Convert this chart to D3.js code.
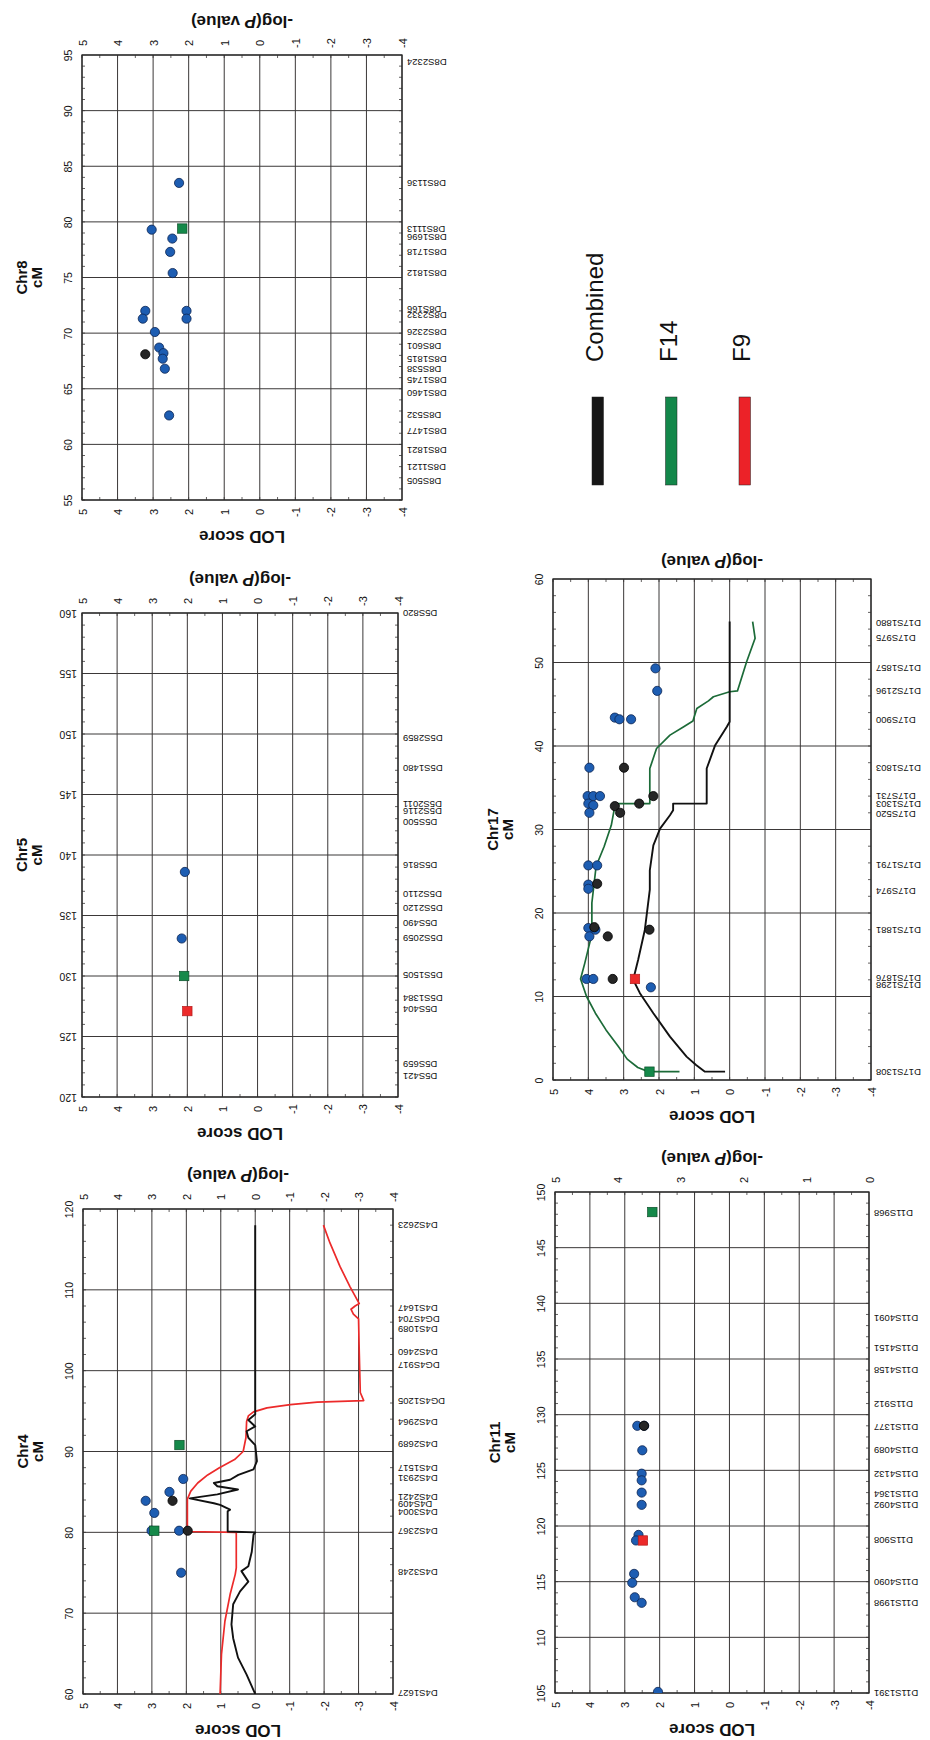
<!DOCTYPE html>
<html>
<head>
<meta charset="utf-8">
<script src="https://cdn.jsdelivr.net/npm/d3@7"></script>
<style>
  body { margin: 0; background: #fff; }
  svg text { font-family: "Liberation Sans", Arial, sans-serif; }
</style>
</head>
<body>
<div id="chart"></div>
<script>
// ---------- data (cM, score) ----------
// Chr8
var chr8Markers = ["D8S505", "D8S1121", "D8S1821", "D8S1477", "D8S532", "D8S1460", "D8S1745", "D8S538", "D8S1815", "D8S601",
  "D8S2326", "D8S2332", "D8S166", "D8S1812", "D8S1718", "D8S1696", "D8S1113", "D8S1136", "D8S2324"];
var chr8MarkerCM = [56.7, 58.0, 59.5, 61.2, 62.6, 64.6, 65.8, 66.8, 67.7, 68.8, 70.1, 71.6, 72.2, 75.4, 77.3, 78.6, 79.4, 83.5, 94.4];
var chr8Pval = [[83.5, 2.27], [79.3, 3.04], [78.5, 2.46], [77.3, 2.52], [75.4, 2.45], [72.0, 3.22], [71.3, 3.29], [72.0, 2.06],
  [71.3, 2.06], [70.1, 2.95], [68.7, 2.83], [68.2, 2.71], [67.7, 2.73], [66.8, 2.67], [62.6, 2.55]];
var chr8Combined = [[68.1, 3.22]];
var chr8F14 = [[79.4, 2.18]];

// Chr5
var chr5Markers = ["D5S421", "D5S659", "D5S404", "D5S1384", "D5S1505", "D5S2059", "D5S490", "D5S2120", "D5S2110", "D5S816",
  "D5S500", "D5S2116", "D5S2011", "D5S1480", "D5S2859", "D5S820"];
var chr5MarkerCM = [121.7, 122.7, 127.3, 128.2, 130.1, 133.1, 134.4, 135.6, 136.8, 139.2, 142.7, 143.6, 144.2, 147.2, 149.7, 160.0];
var chr5Pval = [[138.6, 2.07], [133.1, 2.16]];
var chr5F14 = [[130.0, 2.09]];
var chr5F9 = [[127.1, 2.0]];

// Chr4
var chr4Markers = ["D4S1627", "D4S3248", "D4S2367", "D4S3004", "D4S409", "D4S2421", "D4S2931", "D4S1517", "D4S2689", "D4S2964",
  "DG4S1205", "DG4S917", "D4S2460", "D4S1089", "DG4S704", "D4S1647", "D4S2623"];
var chr4MarkerCM = [60.1, 75.1, 80.2, 82.5, 83.5, 84.4, 86.7, 88.0, 90.9, 93.7, 96.2, 100.7, 102.3, 105.2, 106.4, 107.7, 118.0];
var chr4Pval = [[83.9, 3.18], [82.4, 2.93], [85.0, 2.49], [86.6, 2.09], [80.2, 3.01], [80.2, 2.21], [75.0, 2.15]];
var chr4Combined = [[83.9, 2.40], [80.2, 1.96]];
var chr4F14 = [[90.8, 2.20], [80.2, 2.93]];
var chr4CombinedLine = [[60.0, 0.0], [62.4, 0.25], [64.5, 0.5], [66.9, 0.64], [68.6, 0.69], [71.1, 0.64], [72.7, 0.44], [73.9, 0.2],
  [75.2, 0.4], [75.8, 0.2], [77.6, 0.1], [79.7, 0.05], [80.0, 0.0], [80.1, 0.8], [82.6, 0.8], [82.8, 0.73], [83.4, 1.02],
  [83.6, 1.2], [84.2, 1.9], [84.7, 1.1], [85.3, 0.5], [85.7, 1.1], [86.1, 1.2], [86.5, 0.73], [87.1, 0.49], [87.8, 0.05],
  [88.8, -0.05], [90.8, 0.0], [91.7, 0.2], [92.5, 0.25], [93.1, 0.0], [93.9, 0.2], [94.6, 0.0], [95.8, 0.0], [118.0, 0.0]];
var chr4F9Line = [[60.0, 1.02], [64.9, 0.98], [69.0, 0.88], [72.3, 0.73], [74.8, 0.58], [75.6, 0.55], [80.0, 0.55], [80.1, 1.97],
  [84.1, 1.97], [85.1, 1.87], [86.1, 1.67], [87.1, 1.38], [88.0, 1.04], [89.0, 0.6], [90.0, 0.35], [91.7, 0.27], [93.7, 0.25],
  [94.4, 0.2], [94.9, 0.05], [95.4, -0.34], [95.8, -1.02], [96.1, -1.8], [96.3, -3.15], [97.3, -3.05], [102.3, -3.02],
  [106.4, -3.0], [107.0, -2.85], [107.6, -2.78], [108.0, -2.9], [108.3, -3.02], [110.4, -2.75], [112.9, -2.46],
  [115.8, -2.17], [118.0, -1.98]];

// Chr17
var chr17Markers = ["D17S1308", "D17S1298", "D17S1876", "D17S1881", "D17S974", "D17S1791", "D17S520", "D17S1303", "D17S731",
  "D17S1803", "D17S900", "D17S2196", "D17S1857", "D17S975", "D17S1880"];
var chr17MarkerCM = [1.0, 11.4, 12.2, 18.0, 22.6, 25.7, 31.9, 33.1, 34.0, 37.4, 43.1, 46.6, 49.3, 52.9, 54.7];
var chr17Pval = [[49.3, 2.1], [46.6, 2.05], [43.4, 3.25], [43.2, 3.12], [43.2, 2.79], [37.4, 3.97], [34.0, 4.02], [34.0, 3.86],
  [34.0, 3.67], [33.1, 4.0], [32.9, 3.86], [32.0, 3.97], [25.7, 4.0], [25.7, 3.75], [23.4, 4.0], [22.9, 4.0], [18.2, 4.0],
  [17.2, 3.97], [18.0, 3.8], [12.1, 4.05], [12.1, 3.86], [11.1, 2.23]];
var chr17Combined = [[37.4, 2.99], [34.0, 2.16], [33.1, 2.56], [32.8, 3.25], [32.0, 3.1], [23.5, 3.75], [18.3, 3.83],
  [17.2, 3.45], [12.1, 3.31], [18.0, 2.27]];
var chr17F14 = [[1.0, 2.27]];
var chr17F9 = [[12.1, 2.68]];
var chr17CombinedLine = [[1.0, 0.13], [1.0, 0.7], [1.8, 0.95], [2.8, 1.22], [5.2, 1.69], [8.0, 2.16], [10.4, 2.54], [12.0, 2.73],
  [14.4, 2.59], [18.0, 2.40], [22.8, 2.26], [25.1, 2.26], [28.1, 2.16], [30.1, 1.97], [31.7, 1.69], [32.3, 1.6], [33.1, 1.6],
  [33.1, 0.65], [37.3, 0.65], [40.1, 0.41], [42.3, 0.08], [42.9, 0.0], [54.9, 0.0]];
var chr17F14Line = [[1.0, 1.42], [1.0, 2.3], [1.5, 2.6], [2.5, 2.9], [4.0, 3.15], [6.0, 3.5], [8.0, 3.8], [10.0, 4.05],
  [12.1, 4.22], [14.0, 4.1], [16.6, 3.95], [18.0, 3.9], [21.2, 3.9], [25.6, 3.78], [28.0, 3.55], [30.5, 3.35], [32.8, 3.25],
  [33.1, 3.15], [33.1, 2.26], [37.3, 2.26], [39.7, 2.07], [41.3, 1.69], [42.3, 1.3], [43.0, 1.04], [44.5, 0.93], [45.4, 0.6],
  [45.9, 0.46], [46.5, 0.0], [46.6, -0.22], [50.1, -0.48], [52.9, -0.72], [54.9, -0.65]];

// Chr11 (blue points read on the -log(P) axis, 5 .. 0)
var chr11Markers = ["D11S1391", "D11S1998", "D11S4090", "D11S908", "D11S4092", "D11S1364", "D11S4132", "D11S4089", "D11S1377",
  "D11S912", "D11S4158", "D11S4151", "D11S4091", "D11S968"];
var chr11MarkerCM = [105.0, 113.1, 115.0, 118.7, 121.9, 122.9, 124.7, 126.8, 128.9, 131.0, 134.0, 136.0, 138.7, 148.1];
var chr11Pval = [[129.0, 3.69], [129.0, 3.58], [126.8, 3.61], [124.7, 3.62], [124.1, 3.62], [123.0, 3.62], [121.9, 3.62],
  [119.2, 3.67], [118.7, 3.71], [115.7, 3.74], [114.9, 3.77], [113.6, 3.73], [113.1, 3.62], [105.1, 3.36]];
var chr11Combined = [[129.0, 2.45]];
var chr11F14 = [[148.2, 2.21]];
var chr11F9 = [[118.7, 2.48]];

var lodTicks = [5, 4, 3, 2, 1, 0, -1, -2, -3, -4];
var legendNames = ["Combined", "F14", "F9"];

// ---------- chart ----------
var svgWidth = 930;
var svgHeight = 1740;

var svg = d3.select("#chart")
  .append("svg")
  .attr("width", svgWidth)
  .attr("height", svgHeight);

var colors = {
  blue: "#1d5db2", blueEdge: "#0c2452",
  black: "#262626",
  green: "#15894a", greenLine: "#1c6b38",
  red: "#ec2a2a"
};
var gridColor = "#3b3838";

function rotText(g, x, y, angle, txt) {
  return g.append("text")
    .attr("transform", `translate(${x},${y}) rotate(${angle})`)
    .text(txt);
}

// restyle the labels d3.axis made so they sit rotated like the figure
function styleLabels(axisG, dx, dy, angle, anchor, size) {
  axisG.select(".domain").remove();
  axisG.selectAll(".tick line").remove();
  axisG.attr("font-family", null).attr("font-size", null);
  axisG.selectAll(".tick text")
    .attr("x", null).attr("y", null).attr("dy", null)
    .attr("transform", `translate(${dx},${dy}) rotate(${angle})`)
    .attr("text-anchor", anchor)
    .attr("dominant-baseline", "central")
    .attr("fill", "#111")
    .style("font-size", size + "px");
}

var panelCount = 0;
function drawPanel(p) {
  panelCount += 1;
  var g = svg.append("g");
  var x = d3.scaleLinear().domain([5, -4]).range([p.left, p.right]);
  var xP = d3.scaleLinear().domain(p.pDomain || [5, -4]).range([p.left, p.right]);
  var y = d3.scaleLinear().domain(p.cm).range([p.bottom, p.top]);
  var cmTicks = d3.range(p.cm[0], p.cm[1] + 0.01, p.step);
  var midX = (p.left + p.right) / 2;
  var midY = (p.top + p.bottom) / 2;

  // grid
  g.selectAll(".vgrid").data(lodTicks).enter().append("line")
    .attr("x1", d => x(d)).attr("x2", d => x(d))
    .attr("y1", p.top).attr("y2", p.bottom)
    .attr("stroke", gridColor).attr("stroke-width", 1);
  g.selectAll(".hgrid").data(cmTicks).enter().append("line")
    .attr("x1", p.left).attr("x2", p.right)
    .attr("y1", d => y(d)).attr("y2", d => y(d))
    .attr("stroke", gridColor).attr("stroke-width", 1);

  // small ticks along the frame
  var cmMinor = d3.range(p.cm[0], p.cm[1], p.minor);
  var lodMinor = d3.range(5, -4, -0.5);
  g.selectAll(".mtl").data(cmMinor).enter().append("line")
    .attr("x1", p.left).attr("x2", p.left + 3)
    .attr("y1", d => y(d)).attr("y2", d => y(d))
    .attr("stroke", gridColor).attr("stroke-width", 0.8);
  g.selectAll(".mtr").data(cmMinor).enter().append("line")
    .attr("x1", p.right - 3).attr("x2", p.right)
    .attr("y1", d => y(d)).attr("y2", d => y(d))
    .attr("stroke", gridColor).attr("stroke-width", 0.8);
  g.selectAll(".mtb").data(lodMinor).enter().append("line")
    .attr("x1", d => x(d)).attr("x2", d => x(d))
    .attr("y1", p.bottom - 3).attr("y2", p.bottom)
    .attr("stroke", gridColor).attr("stroke-width", 0.8);
  g.selectAll(".mtt").data(lodMinor).enter().append("line")
    .attr("x1", d => x(d)).attr("x2", d => x(d))
    .attr("y1", p.top).attr("y2", p.top + 3)
    .attr("stroke", gridColor).attr("stroke-width", 0.8);

  g.append("rect")
    .attr("x", p.left).attr("y", p.top)
    .attr("width", p.right - p.left).attr("height", p.bottom - p.top)
    .attr("fill", "none").attr("stroke", "#2a2a2a").attr("stroke-width", 1.3);

  // bottom LOD axis
  var bx = g.append("g").attr("transform", `translate(0,${p.bottom})`)
    .call(d3.axisBottom(x).tickValues(lodTicks).tickSize(0).tickFormat(d => String(d)));
  styleLabels(bx, 0, 12, -90, "middle", 11);
  rotText(g, midX, p.bottom + 36, 180, "LOD score")
    .attr("text-anchor", "middle").attr("dominant-baseline", "central")
    .style("font-size", "17px").style("font-weight", "bold").attr("fill", "#111");

  // top -log(P) axis
  if (p.pTicks) {
    var tx = g.append("g").attr("transform", `translate(0,${p.top})`)
      .call(d3.axisTop(xP).tickValues(p.pTicks).tickSize(0).tickFormat(d => String(d)));
    styleLabels(tx, 0, -12, -90, "middle", 11);
  }
  var pl = rotText(g, midX, p.top - (p.pTicks ? 33 : 17), 180, "")
    .attr("text-anchor", "middle").attr("dominant-baseline", "central")
    .style("font-size", "17px").style("font-weight", "bold").attr("fill", "#111");
  pl.append("tspan").text("-log(");
  pl.append("tspan").style("font-style", "italic").text("P");
  pl.append("tspan").text(" value)");

  // cM axis labels
  var lx = g.append("g").attr("transform", `translate(${p.left},0)`)
    .call(d3.axisLeft(y).tickValues(cmTicks).tickSize(0).tickFormat(d => String(d)));
  if (p.flipCM) {
    styleLabels(lx, -5, 0, 180, "start", 10.5);
  } else {
    styleLabels(lx, -14, 0, -90, "middle", 10.5);
  }

  // marker names
  var mx = g.append("g").attr("transform", `translate(${p.right},0)`)
    .call(d3.axisRight(y).tickValues(p.markerCM).tickSize(0).tickFormat((d, i) => p.markers[i]));
  styleLabels(mx, 5, 0, 180, "end", 9.5);

  // title
  var tcx = p.left - 53;
  rotText(g, tcx - 2, midY, -90, p.title)
    .attr("text-anchor", "middle").style("font-size", "15px").style("font-weight", "bold").attr("fill", "#111");
  rotText(g, tcx + 13, midY, -90, "cM")
    .attr("text-anchor", "middle").style("font-size", "15px").style("font-weight", "bold").attr("fill", "#111");

  // plot content, clipped to the frame
  var clipId = "clip" + panelCount;
  g.append("clipPath").attr("id", clipId).append("rect")
    .attr("x", p.left).attr("y", p.top)
    .attr("width", p.right - p.left).attr("height", p.bottom - p.top);
  var plot = g.append("g").attr("clip-path", `url(#${clipId})`);

  var line = d3.line().x(d => x(d[1])).y(d => y(d[0]));
  if (p.f9Line) {
    plot.append("path").datum(p.f9Line).attr("d", line)
      .attr("fill", "none").attr("stroke", colors.red).attr("stroke-width", 1.7).attr("stroke-linejoin", "round");
  }
  if (p.f14Line) {
    plot.append("path").datum(p.f14Line).attr("d", line)
      .attr("fill", "none").attr("stroke", colors.greenLine).attr("stroke-width", 1.7).attr("stroke-linejoin", "round");
  }
  if (p.combinedLine) {
    plot.append("path").datum(p.combinedLine).attr("d", line)
      .attr("fill", "none").attr("stroke", "#111").attr("stroke-width", 1.9).attr("stroke-linejoin", "round");
  }

  plot.selectAll(".pv").data(p.pval || []).enter().append("circle")
    .attr("cx", d => xP(d[1])).attr("cy", d => y(d[0])).attr("r", 4.6)
    .attr("fill", colors.blue).attr("stroke", colors.blueEdge).attr("stroke-width", 0.8);
  plot.selectAll(".cb").data(p.combined || []).enter().append("circle")
    .attr("cx", d => x(d[1])).attr("cy", d => y(d[0])).attr("r", 4.6)
    .attr("fill", colors.black).attr("stroke", "#000").attr("stroke-width", 0.8);
  plot.selectAll(".f14").data(p.f14 || []).enter().append("rect")
    .attr("x", d => x(d[1]) - 4.7).attr("y", d => y(d[0]) - 4.7).attr("width", 9.4).attr("height", 9.4)
    .attr("fill", colors.green).attr("stroke", "#0d4f2a").attr("stroke-width", 0.7);
  plot.selectAll(".f9").data(p.f9 || []).enter().append("rect")
    .attr("x", d => x(d[1]) - 4.7).attr("y", d => y(d[0]) - 4.7).attr("width", 9.4).attr("height", 9.4)
    .attr("fill", colors.red).attr("stroke", "#b51c1c").attr("stroke-width", 0.7);
}

drawPanel({
  title: "Chr8", left: 82, right: 402, top: 55, bottom: 500, cm: [55, 95], step: 5, minor: 1,
  pTicks: lodTicks, markers: chr8Markers, markerCM: chr8MarkerCM,
  pval: chr8Pval, combined: chr8Combined, f14: chr8F14
});
drawPanel({
  title: "Chr5", left: 82, right: 398, top: 613, bottom: 1097, cm: [120, 160], step: 5, minor: 1, flipCM: true,
  pTicks: lodTicks, markers: chr5Markers, markerCM: chr5MarkerCM,
  pval: chr5Pval, f14: chr5F14, f9: chr5F9
});
drawPanel({
  title: "Chr4", left: 83, right: 393, top: 1209, bottom: 1694, cm: [60, 120], step: 10, minor: 2,
  pTicks: lodTicks, markers: chr4Markers, markerCM: chr4MarkerCM,
  pval: chr4Pval, combined: chr4Combined, f14: chr4F14,
  combinedLine: chr4CombinedLine, f9Line: chr4F9Line
});
drawPanel({
  title: "Chr17", left: 553, right: 871, top: 579, bottom: 1080, cm: [0, 60], step: 10, minor: 2,
  pTicks: null, markers: chr17Markers, markerCM: chr17MarkerCM,
  pval: chr17Pval, combined: chr17Combined, f14: chr17F14, f9: chr17F9,
  combinedLine: chr17CombinedLine, f14Line: chr17F14Line
});
drawPanel({
  title: "Chr11", left: 555, right: 869, top: 1192, bottom: 1693, cm: [105, 150], step: 5, minor: 1,
  pDomain: [5, 0], pTicks: [5, 4, 3, 2, 1, 0], markers: chr11Markers, markerCM: chr11MarkerCM,
  pval: chr11Pval, combined: chr11Combined, f14: chr11F14, f9: chr11F9
});

// legend
var legendColors = ["#161616", "#13874a", "#ec2228"];
var legendX = d3.scalePoint().domain(legendNames).range([603, 750]);
var legend = svg.append("g");
legendNames.forEach(function(name, i) {
  var bx = legendX(name);
  rotText(legend, bx, 362, -90, name)
    .attr("text-anchor", "start").style("font-size", "24px").attr("fill", "#111");
  legend.append("rect")
    .attr("x", bx - 11).attr("y", 397).attr("width", 11.5).attr("height", 88)
    .attr("fill", legendColors[i]).attr("stroke", "#222").attr("stroke-width", 0.5);
});
</script>
</body>
</html>
